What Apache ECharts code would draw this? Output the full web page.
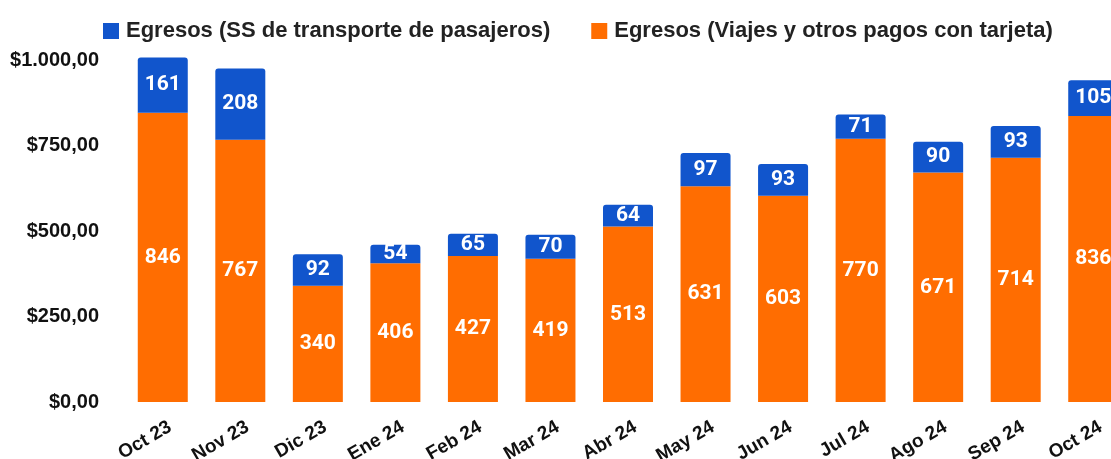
<!DOCTYPE html>
<html lang="es">
<head>
<meta charset="UTF-8">
<title>Egresos</title>
<style>
    html, body { margin: 0; padding: 0; background: #fff; }
    #chart { width: 1111px; height: 459px; }
</style>
</head>
<body>
<div id="chart"></div>
<script src="https://cdn.jsdelivr.net/npm/echarts@6/dist/echarts.min.js"></script>
<script>
    // datos
    const meses = ['Oct 23', 'Nov 23', 'Dic 23', 'Ene 24', 'Feb 24', 'Mar 24', 'Abr 24',
        'May 24', 'Jun 24', 'Jul 24', 'Ago 24', 'Sep 24', 'Oct 24'];
    const viajes = [846, 767, 340, 406, 427, 419, 513, 631, 603, 770, 671, 714, 836];
    const transporte = [161, 208, 92, 54, 65, 70, 64, 97, 93, 71, 90, 93, 105];
    const nombreTransporte = 'Egresos (SS de transporte de pasajeros)';
    const nombreViajes = 'Egresos (Viajes y otros pagos con tarjeta)';

    function formatoPesos(v) {
        const entero = String(Math.round(v)).replace(/\B(?=(\d{3})+(?!\d))/g, '.');
        return '$' + entero + ',00';
    }

    const labelStyle = {
        show: true,
        position: 'inside',
        color: '#fff',
        fontFamily: 'Roboto',
        fontWeight: 'bold',
        fontSize: 21
    };

    const chart = echarts.init(document.getElementById('chart'));
    chart.setOption({
        animation: false,
        legend: {
            left: 98,
            top: 15,
            itemWidth: 16,
            itemHeight: 16,
            itemGap: 41,
            icon: 'rect',
            data: [nombreTransporte, nombreViajes],
            textStyle: {
                fontFamily: 'Liberation Sans',
                fontWeight: 'bold',
                fontSize: 22,
                color: '#222',
                padding: [0, 0, 0, 2]
            }
        },
        grid: {
            left: 124,
            top: 60,
            width: 1008,
            bottom: 57,
            outerBoundsMode: 'none',
            containLabel: false
        },
        xAxis: {
            type: 'category',
            data: meses,
            axisLine: { show: false },
            axisTick: { show: false },
            axisLabel: {
                rotate: 30,
                margin: 17,
                verticalAlign: 'top',
                padding: [0, -3, 0, 0],
                fontFamily: 'Liberation Sans',
                fontWeight: 'bold',
                fontSize: 19,
                color: '#111'
            }
        },
        yAxis: {
            type: 'value',
            min: 0,
            max: 1000,
            interval: 250,
            splitLine: { show: false },
            axisLine: { show: false },
            axisTick: { show: false },
            axisLabel: {
                margin: 25,
                formatter: formatoPesos,
                fontFamily: 'Liberation Sans',
                fontWeight: 'bold',
                fontSize: 20,
                color: '#111'
            }
        },
        series: [
            {
                name: nombreViajes,
                type: 'bar',
                stack: 'total',
                barWidth: 50,
                clip: false,
                data: viajes,
                itemStyle: { color: '#FF6D01' },
                label: labelStyle
            },
            {
                name: nombreTransporte,
                type: 'bar',
                stack: 'total',
                barWidth: 50,
                clip: false,
                data: transporte,
                itemStyle: { color: '#1155CC', borderRadius: [3, 3, 0, 0] },
                label: labelStyle
            }
        ]
    });
</script>
</body>
</html>
